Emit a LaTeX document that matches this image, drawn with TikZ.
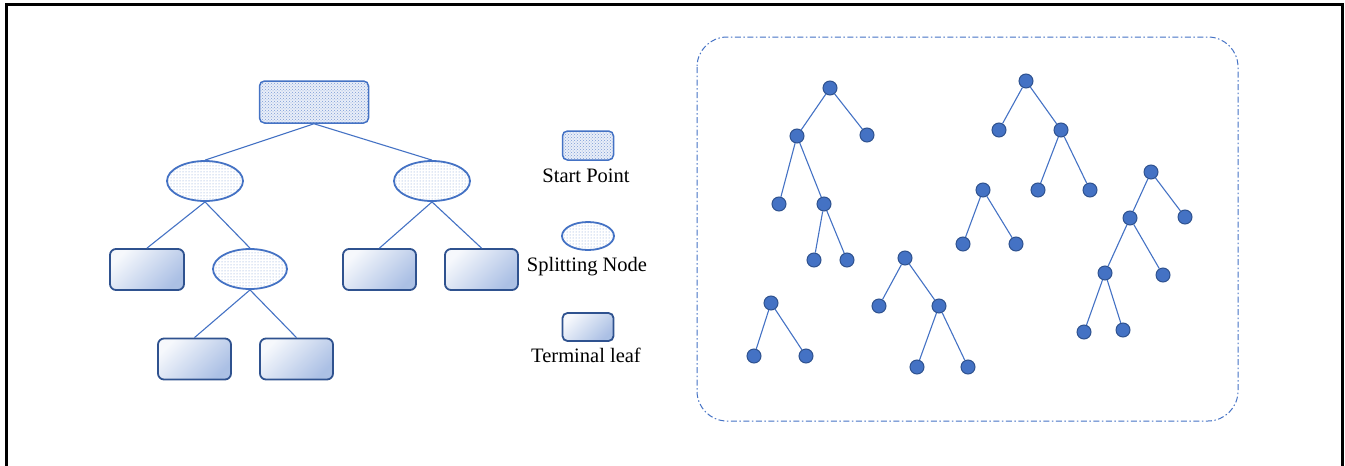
\documentclass[tikz,border=0pt]{standalone}
\usepackage{fontspec}
\setmainfont{Liberation Serif}
\usepackage{xcolor}
\usepackage{tikz}
\usetikzlibrary{patterns,shapes.geometric}

\definecolor{accent}{HTML}{4472C4}
\definecolor{darkacc}{HTML}{2F528F}

\tikzset{
    startbox/.style={draw=accent, line width=1.5pt, rounded corners=5pt,
        preaction={fill=accent!12}, pattern=crosshatch dots, pattern color=accent!70,
        minimum width=#1, minimum height=42pt, inner sep=0pt},
    splitnode/.style={ellipse, draw=accent, line width=1.8pt,
        preaction={fill=white}, pattern=dots, pattern color=accent!70,
        minimum width=#1, minimum height=40pt, inner sep=0pt},
    leafbox/.style={draw=darkacc, line width=1.8pt, rounded corners=6pt,
        top color=accent!5, bottom color=accent!45, shading angle=45,
        minimum width=#1, minimum height=41pt, inner sep=0pt},
    dot/.style={circle, draw=darkacc, line width=1pt, fill=accent,
        minimum size=14pt, inner sep=0pt},
    link/.style={draw=accent, line width=1.1pt},
    legendtext/.style={font=\fontsize{20.5}{24}\selectfont}
}

\begin{document}
\begin{tikzpicture}[x=1pt, y=-1pt]
    \useasboundingbox (0,0) rectangle (1345,466);

    % Frame
    \draw[line width=3pt] (6,466) -- (6,4) -- (1342,4) -- (1342,466);

    % Decision tree
    \node[startbox=109pt] (root) at (314,102) {};
    \node[splitnode=76pt] (s1) at (205,181) {};
    \node[splitnode=76pt] (s2) at (432,181) {};
    \node[leafbox=74pt] (l1) at (147,269.5) {};
    \node[splitnode=74pt] (s3) at (250,269) {};
    \node[leafbox=73pt] (l2) at (379.5,269.5) {};
    \node[leafbox=73pt] (l3) at (481.5,269.5) {};
    \node[leafbox=73pt] (l4) at (194.5,359) {};
    \node[leafbox=73pt] (l5) at (296.5,359) {};

    \foreach \a/\b in {root/s1, root/s2, s1/l1, s1/s3, s2/l2, s2/l3, s3/l4, s3/l5}
        \draw[link] (\a.south) -- (\b.north);

    % Legend
    \node[startbox=51pt, minimum height=29pt] (kstart) at (588,145.5) {};
    \node[legendtext] (tstart) at (586,176) {Start Point};
    \node[splitnode=52pt, minimum height=28pt] (ksplit) at (588,236) {};
    \node[legendtext] (tsplit) at (587,267) {Splitting Node};
    \node[leafbox=51pt, minimum height=28pt, rounded corners=5pt] (kleaf) at (588,327) {};
    \node[legendtext] (tleaf) at (586,355) {Terminal leaf};

    % Forest
    \draw[accent, line width=1pt, rounded corners=30pt,
        dash pattern=on 6pt off 2.5pt on 1.5pt off 2.5pt] (697,37) rectangle (1238,421);

    \node[dot] (a0) at (830,88) {};
    \node[dot] (a1) at (797,136) {};
    \node[dot] (a2) at (867,135) {};
    \node[dot] (a3) at (779,204) {};
    \node[dot] (a4) at (824,204) {};
    \node[dot] (a5) at (814,260) {};
    \node[dot] (a6) at (847,260) {};

    \node[dot] (b0) at (1026,81) {};
    \node[dot] (b1) at (999,130) {};
    \node[dot] (b2) at (1061,130) {};
    \node[dot] (b3) at (1038,190) {};
    \node[dot] (b4) at (1090,190) {};

    \node[dot] (c0) at (983,190) {};
    \node[dot] (c1) at (963,244) {};
    \node[dot] (c2) at (1016,244) {};

    \node[dot] (d0) at (1151,172) {};
    \node[dot] (d1) at (1130,218) {};
    \node[dot] (d2) at (1185,217) {};
    \node[dot] (d3) at (1105,273) {};
    \node[dot] (d4) at (1163,275) {};
    \node[dot] (d5) at (1084,332) {};
    \node[dot] (d6) at (1123,330) {};

    \node[dot] (e0) at (905,258) {};
    \node[dot] (e1) at (879,306) {};
    \node[dot] (e2) at (939,306) {};
    \node[dot] (e3) at (917,367) {};
    \node[dot] (e4) at (968,367) {};

    \node[dot] (f0) at (771,303) {};
    \node[dot] (f1) at (754,356) {};
    \node[dot] (f2) at (806,356) {};

    \foreach \a/\b in {a0/a1, a0/a2, a1/a3, a1/a4, a4/a5, a4/a6,
                       b0/b1, b0/b2, b2/b3, b2/b4,
                       c0/c1, c0/c2,
                       d0/d1, d0/d2, d1/d3, d1/d4, d3/d5, d3/d6,
                       e0/e1, e0/e2, e2/e3, e2/e4,
                       f0/f1, f0/f2}
        \draw[link] (\a) -- (\b);
\end{tikzpicture}
\end{document}
